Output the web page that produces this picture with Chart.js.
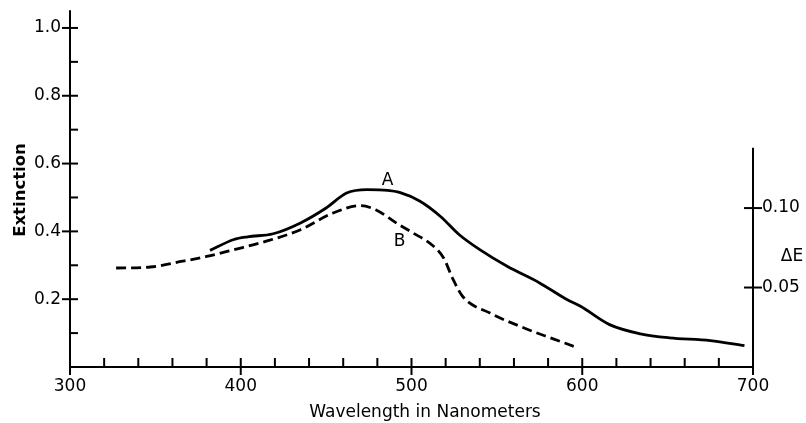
<!DOCTYPE html>
<html>
<head>
<meta charset="utf-8">
<script src="https://cdn.jsdelivr.net/npm/chart.js@4.4.1/dist/chart.umd.min.js"></script>
<style>
  html, body { margin: 0; padding: 0; background: #fff; }
  #wrap { width: 806px; height: 423px; }
</style>
</head>
<body>
<div id="wrap"><canvas id="spectrum"></canvas></div>
<script>
// --- DATA ---
const wavelengthA = [382, 396, 404, 419, 435, 450, 462, 474, 486, 493, 505, 517, 528, 540, 556, 575, 591, 599, 616, 634, 651, 675, 695];
const extinctionA = [0.344, 0.376, 0.384, 0.393, 0.425, 0.469, 0.513, 0.523, 0.521, 0.515, 0.489, 0.444, 0.390, 0.346, 0.297, 0.248, 0.199, 0.179, 0.125, 0.098, 0.086, 0.078, 0.063];

const wavelengthB = [327, 347, 366, 380, 396, 415, 435, 454, 470, 479, 491, 501, 512, 519, 524, 530, 546, 566, 583, 595];
const extinctionB = [0.292, 0.295, 0.312, 0.326, 0.346, 0.371, 0.405, 0.454, 0.476, 0.464, 0.425, 0.395, 0.360, 0.320, 0.262, 0.208, 0.159, 0.115, 0.083, 0.061];

const xLabelTicks = [300, 400, 500, 600, 700];
const yLabelTicks = [0.2, 0.4, 0.6, 0.8, 1.0];
const deltaETicks = [0.05, 0.10];

// curve labels, placed in data units
const curveLabels = [
    { text: 'A', x: 486, y: 0.55 },
    { text: 'B', x: 493, y: 0.37 }
];

// --- STYLE ---
const INK = '#000';
const FONT = '"DejaVu Sans", sans-serif';

const toPoints = (xs, ys) => xs.map((v, i) => ({ x: v, y: ys[i] }));

// Hand-lettered look: axes, ticks and text are drawn on top of the library's scales.
const axesPlugin = {
    id: 'plotAxes',
    afterDraw(chart) {
        const { ctx, scales: { x, y, y2 } } = chart;
        const base = y.getPixelForValue(0);
        const left = x.getPixelForValue(300);
        const right = x.getPixelForValue(700);

        const seg = (x1, y1, x2, y2_) => {
            ctx.beginPath();
            ctx.moveTo(x1, y1);
            ctx.lineTo(x2, y2_);
            ctx.stroke();
        };

        ctx.save();
        ctx.strokeStyle = INK;
        ctx.fillStyle = INK;
        ctx.lineWidth = 2;

        // axis lines
        seg(left, y.getPixelForValue(1.052), left, base + 8);
        seg(left, base, right, base);
        seg(right, y2.getPixelForValue(0.138), right, base + 8);

        // x ticks every 20 nm, the hundreds cross the axis
        for (let v = 320; v < 700; v += 20) {
            const px = x.getPixelForValue(v);
            if (v % 100 === 0) seg(px, base - 9, px, base + 8);
            else seg(px, base - 9, px, base);
        }

        // left ticks every 0.1, labelled ones cross the axis
        for (let i = 1; i <= 10; i++) {
            const py = y.getPixelForValue(i / 10);
            if (i % 2 === 0) seg(left - 8, py, left + 8, py);
            else seg(left, py, left + 8, py);
        }

        // right delta-E ticks
        deltaETicks.forEach(v => {
            const py = y2.getPixelForValue(v);
            seg(right - 9, py, right + 9, py);
        });

        // tick labels
        ctx.font = '17px ' + FONT;
        ctx.textBaseline = 'middle';
        ctx.textAlign = 'center';
        xLabelTicks.forEach(v => ctx.fillText(String(v), x.getPixelForValue(v), base + 20));

        ctx.textAlign = 'right';
        yLabelTicks.forEach(v => ctx.fillText(v.toFixed(1), left - 9, y.getPixelForValue(v)));

        ctx.textAlign = 'left';
        deltaETicks.forEach(v => ctx.fillText(v.toFixed(2), right + 9, y2.getPixelForValue(v)));

        // axis titles
        ctx.font = '17px ' + FONT;
        ctx.textAlign = 'center';
        ctx.fillText('Wavelength in Nanometers', 425, 413);
        ctx.fillText('ΔE', 792, 257);

        ctx.save();
        ctx.translate(21, 190);
        ctx.rotate(-Math.PI / 2);
        ctx.font = 'bold 16.5px ' + FONT;
        ctx.fillText('Extinction', 0, 0);
        ctx.restore();

        // curve labels
        ctx.font = '17px ' + FONT;
        curveLabels.forEach(l => ctx.fillText(l.text, x.getPixelForValue(l.x), y.getPixelForValue(l.y)));

        ctx.restore();
    }
};

new Chart(document.getElementById('spectrum'), {
    type: 'line',
    data: {
        datasets: [{
            label: 'A',
            data: toPoints(wavelengthA, extinctionA),
            borderColor: INK,
            borderWidth: 2.8,
            pointRadius: 0,
            cubicInterpolationMode: 'monotone',
            fill: false
        }, {
            label: 'B',
            data: toPoints(wavelengthB, extinctionB),
            borderColor: INK,
            borderWidth: 2.8,
            borderDash: [10, 5],
            pointRadius: 0,
            cubicInterpolationMode: 'monotone',
            fill: false
        }]
    },
    options: {
        responsive: true,
        maintainAspectRatio: false,
        animation: false,
        layout: { padding: { left: 70, right: 53, top: 11, bottom: 56 } },
        scales: {
            x: { type: 'linear', min: 300, max: 700, display: false },
            y: { min: 0, max: 1.05, display: false },
            y2: { min: 0, max: 0.224, display: false, position: 'right' }
        },
        plugins: {
            legend: { display: false },
            tooltip: { enabled: false }
        }
    },
    plugins: [axesPlugin]
});
</script>
</body>
</html>
